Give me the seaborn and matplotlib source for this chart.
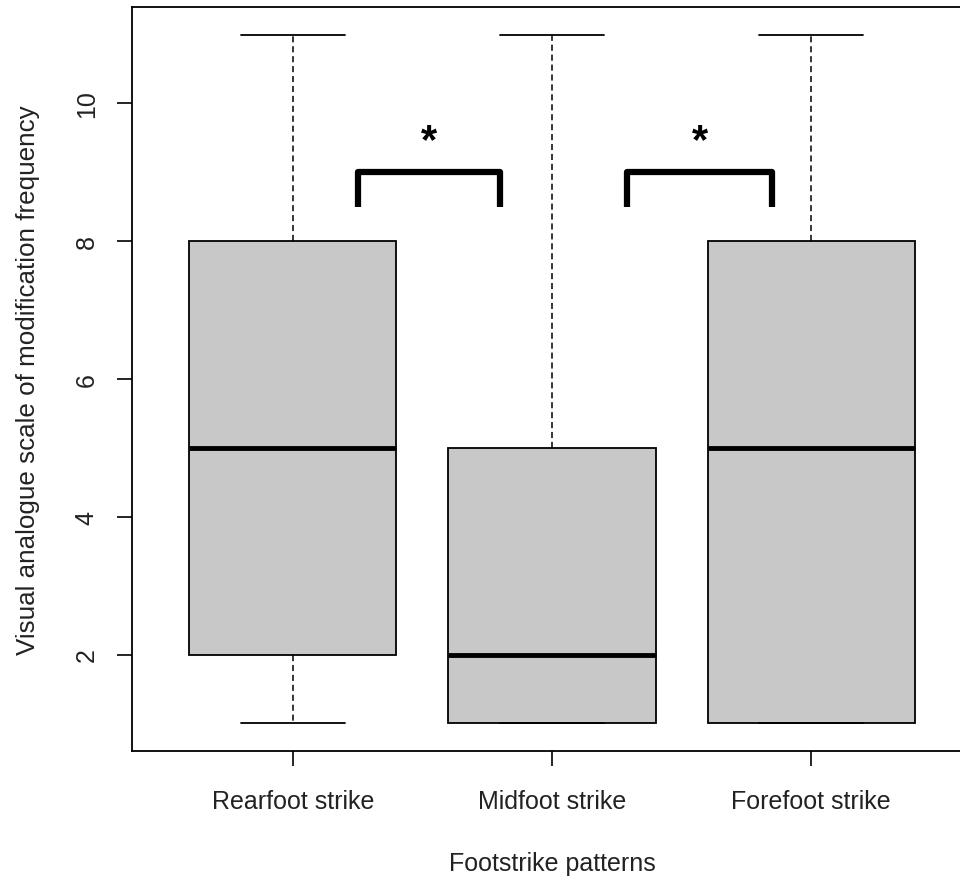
import matplotlib
matplotlib.use("Agg")
import matplotlib.pyplot as plt
import seaborn as sns
import pandas as pd

# five-number summaries: min, Q1, median, Q3, max
patterns = ["Rearfoot strike", "Midfoot strike", "Forefoot strike"]
rearfoot = [1, 2, 5, 8, 11]
midfoot = [1, 1, 2, 5, 11]
forefoot = [1, 1, 5, 8, 11]

# significance brackets (x from, x to) and level
brackets = [(1.25, 1.8), (2.29, 2.85)]
bracket_low, bracket_high = 8.5, 9.0
star_y = 9.45

sns.set_style("white")
plt.rcParams["font.family"] = ["Liberation Sans", "DejaVu Sans"]

df = pd.DataFrame({
    "pattern": [patterns[0]] * len(rearfoot) + [patterns[1]] * len(midfoot) + [patterns[2]] * len(forefoot),
    "score": rearfoot + midfoot + forefoot,
})

fig = plt.figure(figsize=(9.6, 8.78), dpi=100)
ax = fig.add_axes([0.1375, 0.1435, 0.875, 0.8474])

sns.boxplot(data=df, x="pattern", y="score", order=patterns, ax=ax,
            color="#c8c8c8", saturation=1, width=0.8, whis=(0, 100),
            linecolor="black", linewidth=1.3, fliersize=0,
            medianprops=dict(linewidth=3.5, color="black"),
            whiskerprops=dict(linestyle=(0, (4, 2.5)), linewidth=1.1),
            capprops=dict(linewidth=1.3))

# R puts boxes at 1..n
ax.set_xlim(-0.62, 2.62)
ax.set_ylim(0.6, 11.4)
ax.set_yticks([2, 4, 6, 8, 10])
ax.tick_params(axis="both", direction="out", length=11, width=1.2, labelsize=18,
               color="black", labelcolor="#222222", left=True, bottom=True)
ax.tick_params(axis="x", pad=16)
ax.tick_params(axis="y", pad=13)
for lab in ax.get_yticklabels():
    lab.set_rotation(90)
    lab.set_va("center")

for side in ["top", "left", "bottom", "right"]:
    ax.spines[side].set_visible(True)
    ax.spines[side].set_color("black")
    ax.spines[side].set_linewidth(1.3)

ax.set_xlabel("Footstrike patterns", fontsize=18, labelpad=28, color="#222222")
ax.set_ylabel("Visual analogue scale of modification frequency", fontsize=18.7,
              labelpad=25, color="#222222")

for x0, x1 in brackets:
    ax.plot([x0 - 1, x0 - 1, x1 - 1, x1 - 1],
            [bracket_low, bracket_high, bracket_high, bracket_low],
            color="black", linewidth=4.5, solid_joinstyle="round",
            solid_capstyle="butt")
    ax.text((x0 + x1) / 2 - 1, star_y, "*", ha="center", va="center",
            fontsize=30, fontweight="bold", color="black")

fig.savefig("out.png", dpi=100)
